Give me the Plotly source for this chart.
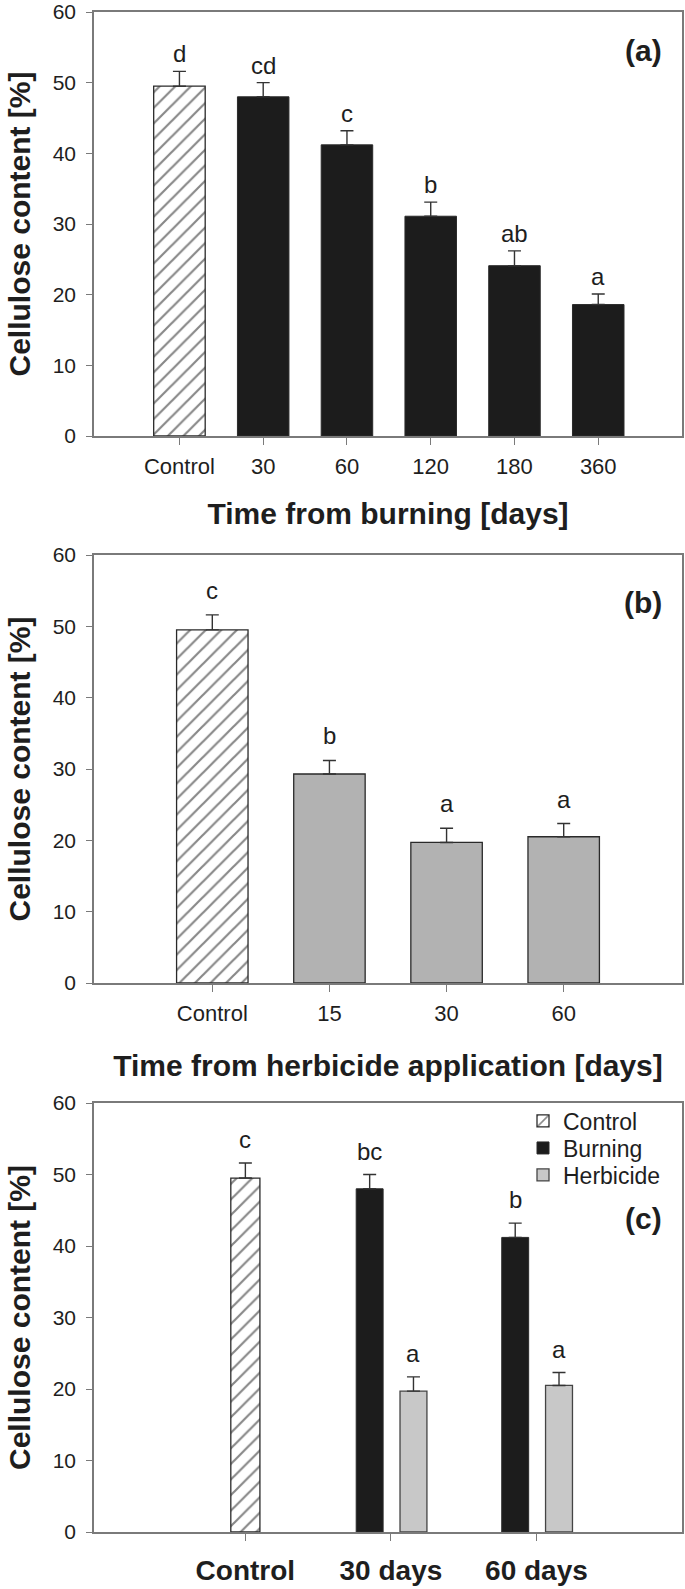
import plotly.graph_objects as go

# ---------------- data ----------------
burn_cats = ["Control", "30", "60", "120", "180", "360"]
burn_mean = [49.5, 48.0, 41.2, 31.1, 24.1, 18.6]
burn_err = [2.1, 2.0, 2.0, 2.0, 2.1, 1.5]
burn_letters = ["d", "cd", "c", "b", "ab", "a"]

herb_cats = ["Control", "15", "30", "60"]
herb_mean = [49.5, 29.3, 19.7, 20.5]
herb_err = [2.1, 1.9, 2.0, 1.85]
herb_letters = ["c", "b", "a", "a"]

comp_cats = ["Control", "30 days", "60 days"]
comp_control_mean = [49.5]
comp_control_err = [2.1]
comp_control_letters = ["c"]
comp_burn_mean = [48.0, 41.2]
comp_burn_err = [2.0, 2.0]
comp_burn_letters = ["bc", "b"]
comp_herb_mean = [19.7, 20.5]
comp_herb_err = [2.0, 1.8]
comp_herb_letters = ["a", "a"]

y_ticks = [0, 10, 20, 30, 40, 50, 60]

# ---------------- style ----------------
FONT = "Liberation Sans, Arial, sans-serif"
TXT = "#1e1e1e"
AXC = "#7a7a7a"
BLACK = "#1c1c1c"
GRAY_B = "#b2b2b2"
GRAY_C = "#c8c8c8"
EDGE = "#2a2a2a"
H = 1589
W = 685

def ydom(top, bottom):
    return [1 - bottom / H, 1 - top / H]

xdom = [94 / W, 682 / W]

hatch = dict(shape="/", fgcolor="#111111", bgcolor="white", size=11, solidity=0.2)

def err(arr):
    return dict(type="data", symmetric=False, array=arr, arrayminus=[0] * len(arr),
                color="#333333", thickness=1.4, width=6.5)

fig = go.Figure()

# ---- panel (a)
fig.add_trace(go.Bar(x=burn_cats[:1], y=burn_mean[:1], error_y=err(burn_err[:1]),
                     width=0.615, marker=dict(color="white", pattern=hatch,
                     line=dict(color=EDGE, width=1.3)), xaxis="x", yaxis="y",
                     showlegend=False))
fig.add_trace(go.Bar(x=burn_cats[1:], y=burn_mean[1:], error_y=err(burn_err[1:]),
                     width=0.615, marker=dict(color=BLACK, line=dict(color=EDGE, width=1)),
                     xaxis="x", yaxis="y", showlegend=False))

# ---- panel (b)
fig.add_trace(go.Bar(x=herb_cats[:1], y=herb_mean[:1], error_y=err(herb_err[:1]),
                     width=0.61, marker=dict(color="white", pattern=hatch,
                     line=dict(color=EDGE, width=1.3)), xaxis="x2", yaxis="y2",
                     showlegend=False))
fig.add_trace(go.Bar(x=herb_cats[1:], y=herb_mean[1:], error_y=err(herb_err[1:]),
                     width=0.61, marker=dict(color=GRAY_B, line=dict(color=EDGE, width=1.3)),
                     xaxis="x2", yaxis="y2", showlegend=False))

# ---- panel (c)
CW = 0.2      # control bar width
GW = 0.185    # grouped bar width
B_OFF = -0.146  # burning bar centre shift
H_OFF = 0.155   # herbicide bar centre shift
fig.add_trace(go.Bar(name="Control", x=comp_cats[:1], y=comp_control_mean,
                     error_y=err(comp_control_err), width=CW, offset=-CW / 2,
                     marker=dict(color="white", pattern=hatch, line=dict(color=EDGE, width=1.3)),
                     xaxis="x3", yaxis="y3", legend="legend"))
fig.add_trace(go.Bar(name="Burning", x=comp_cats[1:], y=comp_burn_mean,
                     error_y=err(comp_burn_err), width=GW, offset=B_OFF - GW / 2,
                     marker=dict(color=BLACK, line=dict(color=EDGE, width=1)),
                     xaxis="x3", yaxis="y3", legend="legend2"))
fig.add_trace(go.Bar(name="Herbicide", x=comp_cats[1:], y=comp_herb_mean,
                     error_y=err(comp_herb_err), width=GW, offset=H_OFF - GW / 2,
                     marker=dict(color=GRAY_C, line=dict(color="#444444", width=1.3)),
                     xaxis="x3", yaxis="y3", legend="legend3"))

# ---------------- annotations ----------------
ann = []
def letters(xref, yref, xs, means, errs, labs, shift):
    for x, m, e, t in zip(xs, means, errs, labs):
        ann.append(dict(x=x, y=m + e, xref=xref, yref=yref, text=t, showarrow=False,
                        yanchor="bottom", yshift=shift,
                        font=dict(family=FONT, size=24, color=TXT)))

letters("x", "y", list(range(len(burn_cats))), burn_mean, burn_err, burn_letters, 2)
letters("x2", "y2", list(range(len(herb_cats))), herb_mean, herb_err, herb_letters, 9)
letters("x3", "y3", [0], comp_control_mean, comp_control_err, comp_control_letters, 8)
letters("x3", "y3", [1 + B_OFF, 2 + B_OFF], comp_burn_mean, comp_burn_err, comp_burn_letters, 8)
letters("x3", "y3", [1 + H_OFF, 2 + H_OFF], comp_herb_mean, comp_herb_err, comp_herb_letters, 8)

for lab, xr, yr, yv in [("(a)", "x domain", "y", 54.5), ("(b)", "x2 domain", "y2", 53.4),
                        ("(c)", "x3 domain", "y3", 43.8)]:
    ann.append(dict(x=0.934, y=yv, xref=xr, yref=yr, text=lab, showarrow=False,
                    xanchor="center", yanchor="middle",
                    font=dict(family=FONT, size=30, color=TXT, weight="bold")))

# ---------------- axes ----------------
def yax(dom, anchor):
    return dict(domain=dom, anchor=anchor, range=[0, 60], tickvals=y_ticks,
                showline=True, mirror=True, linecolor=AXC, linewidth=1.5,
                ticks="outside", ticklen=6, tickcolor=AXC, tickwidth=1.3,
                ticklabelstandoff=6, ticklabeloverflow="allow", automargin=False,
                showgrid=False, zeroline=False,
                tickfont=dict(family=FONT, size=21, color=TXT),
                title=dict(text="Cellulose content [%]", standoff=13,
                           font=dict(family=FONT, size=30, color=TXT, weight="bold")),
                fixedrange=True)

def xax(dom, anchor, cats, rng, title, tickfont, standoff, lab_off):
    return dict(domain=dom, anchor=anchor, type="category", categoryorder="array",
                categoryarray=cats, range=rng,
                showline=True, mirror=True, linecolor=AXC, linewidth=1.5,
                ticks="outside", ticklen=7, tickcolor=AXC, tickwidth=1.3,
                ticklabelstandoff=lab_off, ticklabeloverflow="allow", automargin=False,
                showgrid=False, zeroline=False, tickfont=tickfont,
                title=dict(text=title, standoff=standoff,
                           font=dict(family=FONT, size=30, color=TXT, weight="bold")),
                fixedrange=True)

reg_tf = dict(family=FONT, size=22, color=TXT)
bold_tf = dict(family=FONT, size=28, color=TXT, weight="bold")

legend_common = dict(xanchor="left", yanchor="middle", bgcolor="rgba(0,0,0,0)",
                     font=dict(family=FONT, size=23, color=TXT), itemwidth=30)

fig.update_layout(
    width=W, height=H, margin=dict(l=0, r=0, t=0, b=0, autoexpand=False),
    paper_bgcolor="white", plot_bgcolor="white",
    barmode="overlay",
    xaxis=xax(xdom, "y", burn_cats, [-1.02, 6.0], "Time from burning [days]", reg_tf, 25, 3),
    yaxis=yax(ydom(12, 436), "x"),
    xaxis2=xax(xdom, "y2", herb_cats, [-1.01, 4.01], "Time from herbicide application [days]",
               reg_tf, 30, 3),
    yaxis2=yax(ydom(555, 983), "x2"),
    xaxis3=xax(xdom, "y3", comp_cats, [-1.04, 3.0], "", bold_tf, 0, 6),
    yaxis3=yax(ydom(1103, 1532), "x3"),
    annotations=ann,
    legend=dict(x=523 / W, y=1 - 1121 / H, **legend_common),
    legend2=dict(x=523 / W, y=1 - 1148 / H, **legend_common),
    legend3=dict(x=523 / W, y=1 - 1175 / H, **legend_common),
)

fig.write_html("out.html")
